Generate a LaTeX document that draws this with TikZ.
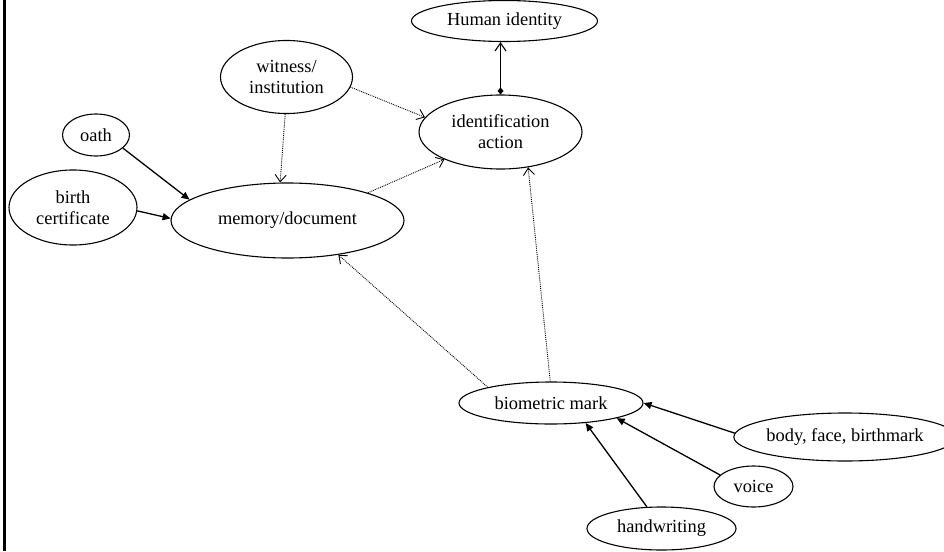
\documentclass[tikz,border=0pt]{standalone}
\usepackage{fontspec}
\setmainfont{Liberation Serif}
\usetikzlibrary{shapes.geometric,arrows.meta}
\begin{document}
\begin{tikzpicture}[x=1pt,y=-1pt,
  ell/.style={ellipse,draw,line width=1.1pt,inner sep=0pt,align=center,
    font=\fontsize{18.4}{21}\selectfont},
  solidarr/.style={line width=1.3pt,-{Triangle[length=8pt,width=7pt]}},
  dotarr/.style={line width=0.9pt,densely dotted,-{Straight Barb[length=7pt,width=11pt,line width=0.9pt]}},
  diamarr/.style={line width=1.4pt,{Diamond[length=7pt,width=6pt]}-{Straight Barb[length=8pt,width=11pt,line width=1.1pt]}}]
\useasboundingbox (0,0) rectangle (944,551);
\draw[line width=3pt] (4.5,0) -- (4.5,551);
\node[ell,minimum width=186pt,minimum height=41pt] (human) at (504.5,21) {Human identity};
\node[ell,minimum width=132pt,minimum height=73pt] (witness) at (286.5,77) {witness/\\institution};
\node[ell,minimum width=163pt,minimum height=74pt] (ident) at (500.5,132) {identification\\action};
\node[ell,minimum width=67pt,minimum height=42pt] (oath) at (96,135) {oath};
\node[ell,minimum width=128pt,minimum height=75pt] (birth) at (73,207.5) {birth\\certificate};
\node[ell,minimum width=233pt,minimum height=75pt] (memory) at (287.5,220.5) {memory/document};
\node[ell,minimum width=184pt,minimum height=42pt] (bio) at (551,403) {biometric mark};
\node[ell,minimum width=196pt,minimum height=48pt] (body) at (845,437) {body, face, birthmark};
\node[ell,minimum width=79pt,minimum height=41pt] (voice) at (753.5,486.5) {voice};
\node[ell,minimum width=149pt,minimum height=43pt] (hand) at (661.5,528.5) {handwriting};

\draw[solidarr] (oath.-26) -- (memory.168);
\draw[solidarr] (birth.-3) -- (memory.179);
\draw[dotarr] (witness.-92) -- (memory.101);
\draw[dotarr] (witness.-9) -- (ident.169);
\draw[dotarr] (memory.19) -- (ident.206);
\draw[dotarr] (bio.166) -- (memory.-34);
\draw[dotarr] (bio.92) -- (ident.-52);
\draw[diamarr] (ident.north) -- (ident.north |- human.south);
\draw[solidarr] (body.178) -- (bio.0);
\draw[solidarr] (voice.161) -- (bio.-13);
\draw[solidarr] (hand.124) -- (bio.-30);
\end{tikzpicture}
\end{document}
